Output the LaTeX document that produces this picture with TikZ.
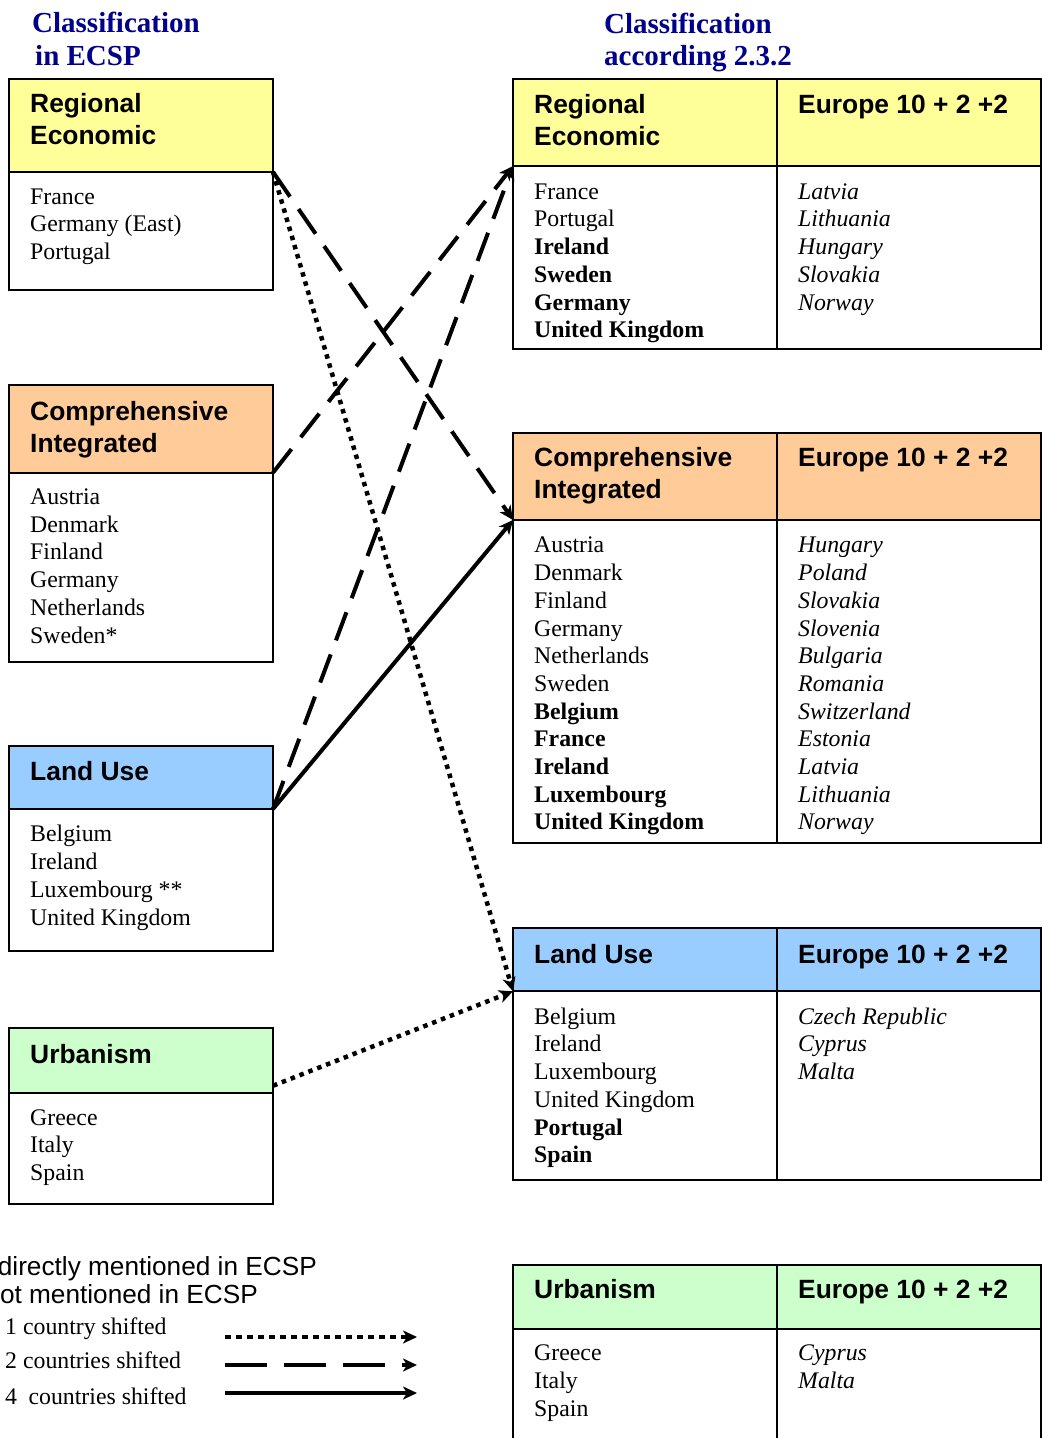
\documentclass[tikz,border=0pt]{standalone}
\usepackage{fontspec}
\setmainfont{Liberation Serif}
\setsansfont{Liberation Sans}
\usetikzlibrary{arrows.meta}
\definecolor{ttlblue}{RGB}{0,0,140}
\definecolor{cyel}{RGB}{255,255,153}
\definecolor{cora}{RGB}{255,204,153}
\definecolor{cblu}{RGB}{153,204,255}
\definecolor{cgrn}{RGB}{204,255,204}
\newcommand\hdrfont{\sffamily\bfseries\fontsize{26.4}{31.7}\selectfont}
\newcommand\bdyfont{\rmfamily\fontsize{23.8}{27.7}\selectfont}
\newcommand\ttlfont{\rmfamily\bfseries\fontsize{29}{32.5}\selectfont}
\newcommand\hdrtext[4]{\node[hdrtxt] (#1) at (#2,#3-22.19) {\strut #4};}
\newcommand\bdytext[4]{\node[bdytxt] (#1) at (#2,#3-19.39) {\strut #4};}
\newcommand\bdyitext[4]{\node[bdyit] (#1) at (#2,#3-19.39) {\strut #4};}
\begin{document}
\begin{tikzpicture}[x=1pt,y=-1pt,
  cell/.style={draw, line width=2pt, inner sep=0pt, outer sep=0pt, anchor=north west, minimum width=264pt},
  hdrtxt/.style={anchor=north west, inner sep=0pt, align=left, font=\hdrfont},
  bdytxt/.style={anchor=north west, inner sep=0pt, align=left, font=\bdyfont},
  bdyit/.style={anchor=north west, inner sep=0pt, align=left, font=\bdyfont\itshape},
  ttl/.style={anchor=north west, inner sep=0pt, align=left, font=\ttlfont, text=ttlblue},
  legsans/.style={anchor=base east, inner sep=0pt, font=\sffamily\fontsize{26.2}{30}\selectfont},
  legser/.style={anchor=base west, inner sep=0pt, font=\bdyfont},
  tipstyle/.style={-{Stealth[length=14pt,width=13pt,inset=4pt]}},
  onec/.style={tipstyle, line width=4.5pt, dash pattern=on 4.5pt off 5pt},
  twoc/.style={tipstyle, line width=4pt, dash pattern=on 30pt off 15pt},
  fourc/.style={tipstyle, line width=4pt},
  onecleg/.style={tipstyle, line width=4.5pt, dash pattern=on 6pt off 5pt},
  twocleg/.style={tipstyle, line width=4pt, dash pattern=on 42pt off 17pt},
]
\useasboundingbox (0,0) rectangle (1043,1438);
\clip (0,0) rectangle (1043,1438);

% titles
\node[ttl] (tl) at (32,32.3-22.75) {\strut Classification\\\hspace*{3pt}in ECSP};
\node[ttl] (tr) at (604,33-22.75) {\strut Classification\\according 2.3.2};

% ---------- left column ----------
\node[cell, fill=cyel, minimum height=93pt] (lRE) at (9,79) {};
\node[cell, minimum height=118pt] (lREb) at (9,172) {};
\hdrtext{lREt}{30}{112.7}{Regional\\Economic}
\bdytext{lREl}{30}{204}{France\\Germany (East)\\Portugal}

\node[cell, fill=cora, minimum height=87.7pt] (lCI) at (9,385) {};
\node[cell, minimum height=189pt] (lCIb) at (9,472.7) {};
\hdrtext{lCIt}{30}{420.7}{Comprehensive\\Integrated}
\bdytext{lCIl}{30}{504.3}{Austria\\Denmark\\Finland\\Germany\\Netherlands\\Sweden*}

\node[cell, fill=cblu, minimum height=63.3pt] (lLU) at (9,745.7) {};
\node[cell, minimum height=142pt] (lLUb) at (9,809) {};
\hdrtext{lLUt}{30}{780}{Land Use}
\bdytext{lLUl}{30}{841.7}{Belgium\\Ireland\\Luxembourg **\\United Kingdom}

\node[cell, fill=cgrn, minimum height=64.4pt] (lUR) at (9,1028.3) {};
\node[cell, minimum height=111.6pt] (lURb) at (9,1092.7) {};
\hdrtext{lURt}{30}{1063.3}{Urbanism}
\bdytext{lURl}{30}{1125}{Greece\\Italy\\Spain}

% ---------- right column ----------
\node[cell, fill=cyel, minimum height=87pt] (rRE) at (513,79) {};
\node[cell, fill=cyel, minimum height=87pt] (rREe) at (777,79) {};
\node[cell, minimum height=183pt] (rREb) at (513,166) {};
\node[cell, minimum height=183pt] (rREbe) at (777,166) {};
\hdrtext{rREt}{534}{113.3}{Regional\\Economic}
\hdrtext{rREet}{798}{113.3}{Europe 10 + 2 +2}
\bdytext{rREl}{534}{199}{France\\Portugal\\\textbf{Ireland}\\\textbf{Sweden}\\\textbf{Germany}\\\textbf{United Kingdom}}
\bdyitext{rREel}{798}{199}{Latvia\\Lithuania\\Hungary\\Slovakia\\Norway}

\node[cell, fill=cora, minimum height=87.3pt] (rCI) at (513,432.7) {};
\node[cell, fill=cora, minimum height=87.3pt] (rCIe) at (777,432.7) {};
\node[cell, minimum height=323pt] (rCIb) at (513,520) {};
\node[cell, minimum height=323pt] (rCIbe) at (777,520) {};
\hdrtext{rCIt}{534}{466.7}{Comprehensive\\Integrated}
\hdrtext{rCIet}{798}{466.7}{Europe 10 + 2 +2}
\bdytext{rCIl}{534}{552.7}{Austria\\Denmark\\Finland\\Germany\\Netherlands\\Sweden\\\textbf{Belgium}\\\textbf{France}\\\textbf{Ireland}\\\textbf{Luxembourg}\\\textbf{United Kingdom}}
\bdyitext{rCIel}{798}{552.7}{Hungary\\Poland\\Slovakia\\Slovenia\\Bulgaria\\Romania\\Switzerland\\Estonia\\Latvia\\Lithuania\\Norway}

\node[cell, fill=cblu, minimum height=63.3pt] (rLU) at (513,928) {};
\node[cell, fill=cblu, minimum height=63.3pt] (rLUe) at (777,928) {};
\node[cell, minimum height=188.7pt] (rLUb) at (513,991.3) {};
\node[cell, minimum height=188.7pt] (rLUbe) at (777,991.3) {};
\hdrtext{rLUt}{534}{963}{Land Use}
\hdrtext{rLUet}{798}{963}{Europe 10 + 2 +2}
\bdytext{rLUl}{534}{1024}{Belgium\\Ireland\\Luxembourg\\United Kingdom\\\textbf{Portugal}\\\textbf{Spain}}
\bdyitext{rLUel}{798}{1024}{Czech Republic\\Cyprus\\Malta}

\node[cell, fill=cgrn, minimum height=64pt] (rUR) at (513,1264.7) {};
\node[cell, fill=cgrn, minimum height=64pt] (rURe) at (777,1264.7) {};
\node[cell, minimum height=140pt] (rURb) at (513,1328.7) {};
\node[cell, minimum height=140pt] (rURbe) at (777,1328.7) {};
\hdrtext{rURt}{534}{1298.7}{Urbanism}
\hdrtext{rURet}{798}{1298.7}{Europe 10 + 2 +2}
\bdytext{rURl}{534}{1360.7}{Greece\\Italy\\Spain}
\bdyitext{rURel}{798}{1360.7}{Cyprus\\Malta}

% ---------- connectors ----------
\draw[twoc] (lRE.south east) -- (rCI.south west);
\draw[onec] (lRE.south east) -- (rLU.south west);
\draw[twoc] (lCI.south east) -- (rRE.south west);
\draw[twoc] (lLU.south east) -- (rRE.south west);
\draw[fourc] (lLU.south east) -- (rCI.south west);
\draw[onec] ([yshift=7pt]lUR.south east) -- (rLU.south west);

% ---------- legend ----------
\node[legsans] (lg1) at (317,1275) {directly mentioned in ECSP};
\node[legsans] (lg2) at (258,1303) {ot mentioned in ECSP};
\node[legser] (lg3) at (5,1334) {1 country shifted};
\node[legser] (lg4) at (5,1368) {2 countries shifted};
\node[legser] (lg5) at (5,1404) {4\hspace{11.5pt}countries shifted};
\coordinate (k1a) at (225,1337);
\coordinate (k1b) at (417,1337);
\coordinate (k2a) at (225,1365);
\coordinate (k2b) at (417,1365);
\coordinate (k3a) at (225,1393);
\coordinate (k3b) at (417,1393);
\draw[onecleg] (k1a) -- (k1b);
\draw[twocleg] (k2a) -- (k2b);
\draw[fourc] (k3a) -- (k3b);
\end{tikzpicture}
\end{document}
